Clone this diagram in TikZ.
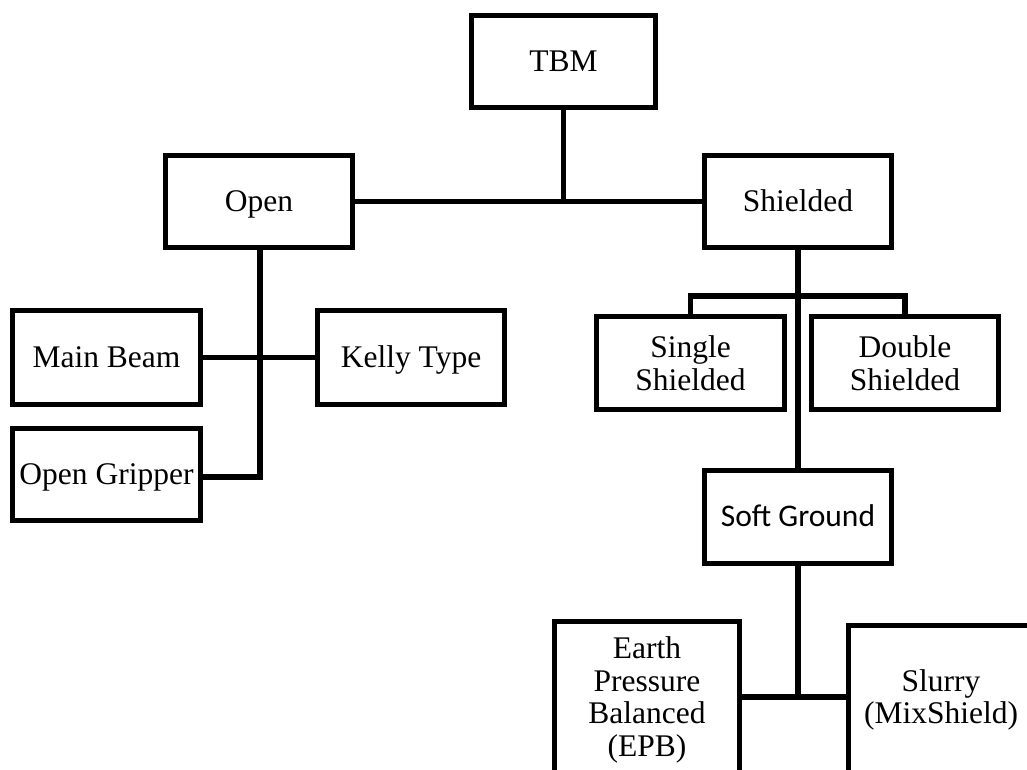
\documentclass[tikz,border=0pt]{standalone}
\usepackage{fontspec}
\setmainfont{Liberation Serif}
\newfontfamily\calibrifont{Carlito}
\begin{document}
\begin{tikzpicture}[x=1pt,y=-1pt,
  box/.style={draw, line width=5.4pt, inner sep=0pt, font=\fontsize{31.5}{32.5}\selectfont, text height=26pt, text depth=7pt},
  mbox/.style={draw, line width=5.4pt, inner sep=0pt, align=center, font=\fontsize{31.5}{32.5}\selectfont},
  conn/.style={line width=5.2pt}]
\fill[white] (0,0) rectangle (1027,769);
\clip (0,0) rectangle (1027,769);
\node[box, minimum width=183.6pt, minimum height=91.6pt] (tbm) at (563.5,61.5) {TBM};
\node[box, minimum width=186.6pt, minimum height=91.6pt] (open) at (259,201.5) {Open};
\node[box, minimum width=186.6pt, minimum height=91.6pt] (shielded) at (798,201.5) {Shielded};
\node[box, minimum width=187.6pt, minimum height=93.6pt] (mainbeam) at (106.5,357.5) {Main Beam};
\node[box, minimum width=186.6pt, minimum height=93.6pt] (kelly) at (411,357.5) {Kelly Type};
\node[box, minimum width=187.6pt, minimum height=91.6pt] (gripper) at (106.5,474.5) {Open Gripper};
\node[mbox, minimum width=187.6pt, minimum height=92.6pt] (single) at (690.5,363) {Single\\Shielded};
\node[mbox, minimum width=186.6pt, minimum height=92.6pt] (double) at (905,363) {Double\\Shielded};
\node[box, font=\calibrifont\fontsize{31.5}{32.5}\selectfont, minimum width=186.6pt, minimum height=92.6pt] (soft) at (798,517) {Soft Ground};
\node[mbox, minimum width=184.6pt, minimum height=156.6pt] (epb) at (647,700) {Earth\\Pressure\\Balanced\\(EPB)};
\node[mbox, minimum width=184.6pt, minimum height=148.6pt] (slurry) at (941,700) {Slurry\\(MixShield)};
\coordinate (tj) at (563.5,201.5);
\coordinate (sb) at (798,296);
\coordinate (sj) at (798,697);
\coordinate (oj) at (260,477);
\draw[conn] (tbm.south) -- (tj);
\draw[conn] (open.east) -- (shielded.west);
\draw[conn] (open.south -| oj) -- (oj) -- (gripper.east |- oj);
\draw[conn] (mainbeam.east) -- (kelly.west);
\draw[conn] (shielded.south) -- (soft.north);
\draw[conn] (single.north) |- (sb) -| (double.north);
\draw[conn] (soft.south) -- (sj);
\draw[conn] (epb.east |- sj) -- (slurry.west |- sj);
\end{tikzpicture}
\end{document}
